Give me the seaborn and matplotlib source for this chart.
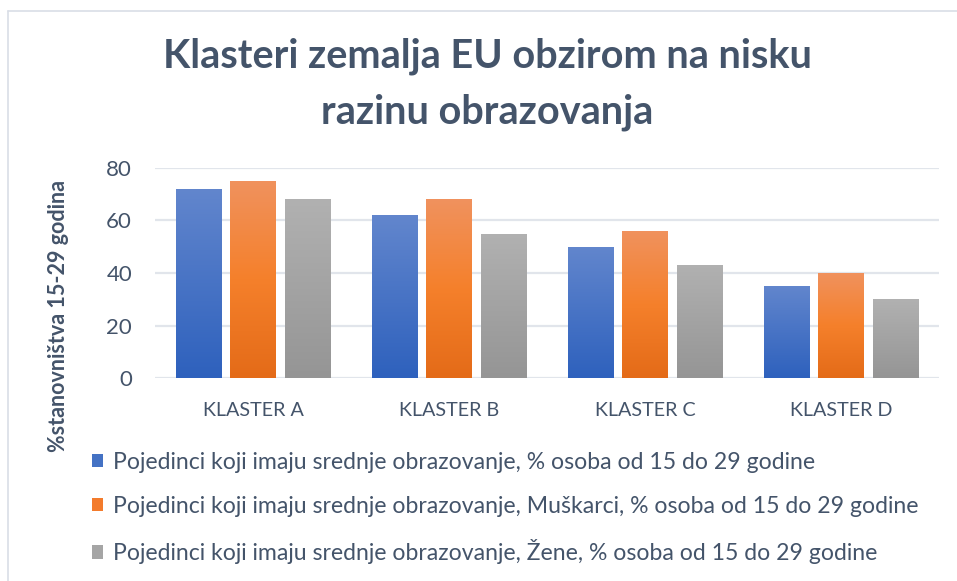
import numpy as np
import pandas as pd
import matplotlib
matplotlib.use("Agg")
import matplotlib.pyplot as plt
from matplotlib.colors import LinearSegmentedColormap
from matplotlib.patches import Patch
import seaborn as sns

klasteri = ["KLASTER A", "KLASTER B", "KLASTER C", "KLASTER D"]
serije = [
    "Pojedinci koji imaju srednje obrazovanje, % osoba od 15 do 29 godine",
    "Pojedinci koji imaju srednje obrazovanje, Muškarci, % osoba od 15 do 29 godine",
    "Pojedinci koji imaju srednje obrazovanje, Žene, % osoba od 15 do 29 godine",
]
ukupno = [72, 62, 50, 35]
muskarci = [75, 68, 56, 40]
zene = [68, 55, 43, 30]

# gradijenti (vrh -> dno)
gradijenti = [
    ("#6286CD", "#2E61BD"),
    ("#F0925E", "#F5802B", "#E46B18"),
    ("#B1B1B1", "#959595"),
]
boje = ["#4472C4", "#F37B2C", "#A5A5A5"]
tekst = "#44546A"

df = pd.DataFrame({
    "klaster": klasteri * 3,
    "serija": [s for s in serije for _ in klasteri],
    "vrijednost": ukupno + muskarci + zene,
})

sns.set_theme(style="white")
plt.rcParams["font.family"] = ["Lato", "DejaVu Sans"]

fig = plt.figure(figsize=(9.57, 5.81), dpi=100)
ax = fig.add_axes([0.162, 0.349, 0.819, 0.362])

sns.barplot(data=df, x="klaster", y="vrijednost", hue="serija", hue_order=serije,
            palette=boje, width=0.834, gap=0.17, ax=ax, legend=False, linewidth=0)

# gradijent na stupcima
for i, serija in enumerate(serije):
    cmap = LinearSegmentedColormap.from_list(f"g{i}", list(gradijenti[i])[::-1])
    for patch in ax.containers[i]:
        x0, w, h = patch.get_x(), patch.get_width(), patch.get_height()
        grad = np.linspace(0, 1, 256).reshape(-1, 1)
        im = ax.imshow(grad, cmap=cmap, extent=[x0, x0 + w, 0, h], origin="lower",
                       aspect="auto", zorder=3)
        im.set_clip_path(patch)
        patch.set_alpha(0)

ax.set_xlim(-0.5, 3.5)
ax.set_ylim(0, 80)
ax.set_yticks([0, 20, 40, 60, 80])
ax.yaxis.grid(True, color="#E1E5EB", linewidth=1.6, zorder=0)
ax.set_axisbelow(True)
sns.despine(ax=ax, left=True, bottom=True)
ax.tick_params(axis="y", length=0, pad=16.5, labelsize=16, labelcolor=tekst)
ax.tick_params(axis="x", length=0, pad=17, labelsize=14.2, labelcolor=tekst)
ax.set_xlabel("")
ax.set_ylabel("%stanovništva 15-29 godina", fontsize=15.5, fontweight="bold",
              color=tekst)
ax.yaxis.set_label_coords(-0.11, 0.295)

fig.text(0.509, 0.855, "Klasteri zemalja EU obzirom na nisku\nrazinu obrazovanja",
         ha="center", va="center", fontsize=28.5, fontweight="bold", color=tekst,
         linespacing=1.6)

rucke = [Patch(facecolor=b, edgecolor="none") for b in boje]
leg = fig.legend(rucke, serije, loc="upper left", bbox_to_anchor=(0.096, 0.222),
                 frameon=False, fontsize=16.6, labelspacing=0.98,
                 handlelength=0.5, handleheight=0.5, handletextpad=0.43,
                 borderaxespad=0, borderpad=0)
for t in leg.get_texts():
    t.set_color(tekst)

# okvir grafikona
fig.add_artist(plt.Line2D([8 / 957, 8 / 957], [0, 1 - 11 / 581], color="#D9DEE6",
                          linewidth=1.2, transform=fig.transFigure))
fig.add_artist(plt.Line2D([8 / 957, 1], [1 - 11 / 581, 1 - 11 / 581], color="#D9DEE6",
                          linewidth=1.2, transform=fig.transFigure))

fig.savefig("out.png", dpi=100)
